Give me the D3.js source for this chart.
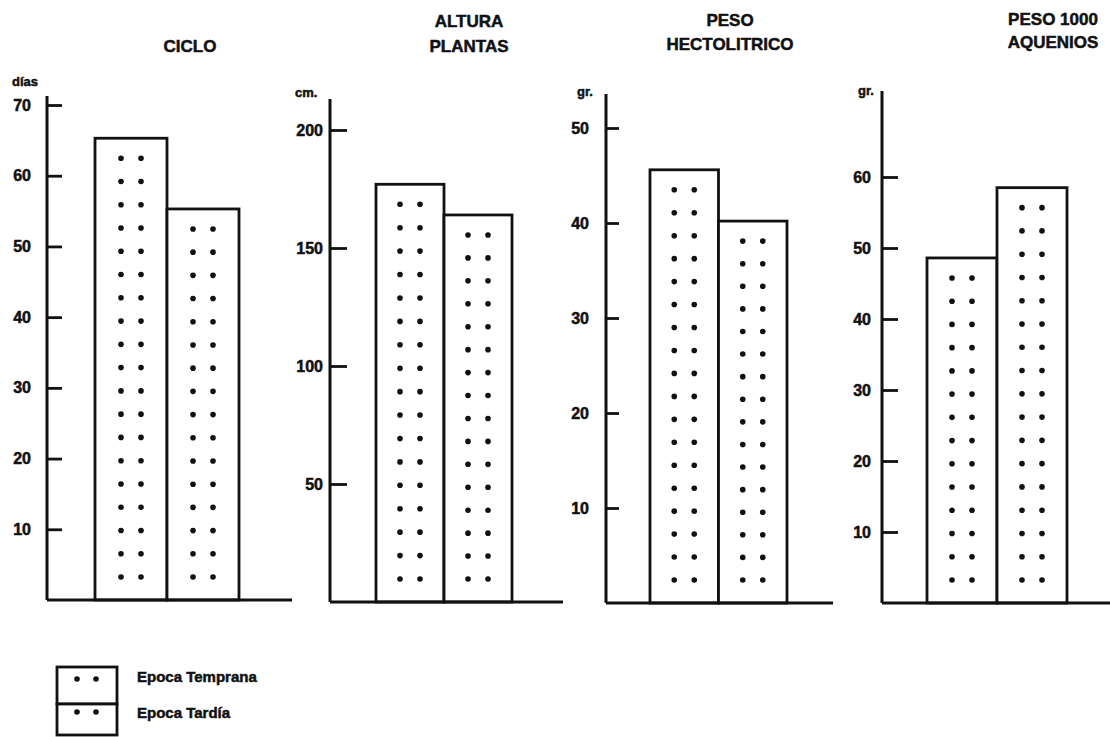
<!DOCTYPE html>
<html>
<head>
<meta charset="utf-8">
<script src="https://cdn.jsdelivr.net/npm/d3@7"></script>
<style>
  body { margin: 0; background: #fff; }
  text { font-family: "Liberation Sans", Arial, sans-serif; font-weight: bold; fill: #111; stroke: #111; stroke-width: 0.5px; }
</style>
</head>
<body>
<svg id="chart" width="1110" height="737"></svg>
<script>
// data
var epocas = ["Epoca Temprana", "Epoca Tardía"];
var titles = [["CICLO"], ["ALTURA", "PLANTAS"], ["PESO", "HECTOLITRICO"], ["PESO 1000", "AQUENIOS"]];
var units = ["días", "cm.", "gr.", "gr."];
var ciclo = [65.3, 55.3];
var altura = [177, 164];
var hectolitrico = [45.6, 40.2];
var aquenios = [48.6, 58.5];
var cicloTicks = [10, 20, 30, 40, 50, 60, 70];
var alturaTicks = [50, 100, 150, 200];
var hectoTicks = [10, 20, 30, 40, 50];
var aquTicks = [10, 20, 30, 40, 50, 60];

// layout of each hand-drawn panel
var panels = [
  { values: ciclo, ticks: cicloTicks, top: 70, axisX: 47, axisTop: 96, base: 600, yTop: 105,
    bars: [95, 239], baseEnd: 292, tick: 15, pad: 16, titleX: 190, titleY: [52], unitX: 12, unitY: 86 },
  { values: altura, ticks: alturaTicks, top: 200, axisX: 330, axisTop: 99, base: 602, yTop: 130,
    bars: [376, 512], baseEnd: 563, tick: 17, pad: 7, titleX: 469, titleY: [27, 52], unitX: 295, unitY: 97 },
  { values: hectolitrico, ticks: hectoTicks, top: 50, axisX: 606, axisTop: 94, base: 603, yTop: 128,
    bars: [650, 787], baseEnd: 833, tick: 13, pad: 17, titleX: 730, titleY: [26, 50], unitX: 577, unitY: 96 },
  { values: aquenios, ticks: aquTicks, top: 60, axisX: 882, axisTop: 91, base: 603, yTop: 177,
    bars: [927, 1067], baseEnd: 1110, tick: 16, pad: 11, titleX: 1053, titleY: [25, 48], unitX: 858, unitY: 95 }
];

var svg = d3.select("#chart");
var ink = "#111";

// two columns of dots inside a bar, spread from bottom to top
function dotRows(y0, y1) {
  var first = y1 + 20, last = y0 - 23;
  var n = Math.max(1, Math.round((last - first) / 23.2) + 1);
  return d3.range(n).map(function (i) { return n === 1 ? last : last - i * (last - first) / (n - 1); });
}

panels.forEach(function (p, pi) {
  var g = svg.append("g");
  var x = d3.scaleBand().domain(epocas).range(p.bars).paddingInner(0);
  var y = d3.scaleLinear().domain([0, p.top]).range([p.base, p.yTop]);

  // title
  g.selectAll(".title")
    .data(titles[pi])
    .enter().append("text")
    .attr("x", p.titleX)
    .attr("y", function (d, i) { return p.titleY[p.titleY.length - titles[pi].length + i]; })
    .attr("text-anchor", "middle")
    .style("font-size", "17px")
    .text(function (d) { return d; });

  // unit
  g.append("text")
    .attr("x", p.unitX)
    .attr("y", p.unitY)
    .style("font-size", "13px")
    .text(units[pi]);

  // bars
  g.selectAll("rect")
    .data(p.values)
    .enter().append("rect")
    .attr("x", function (d, i) { return x(epocas[i]); })
    .attr("y", function (d) { return y(d); })
    .attr("width", x.bandwidth())
    .attr("height", function (d) { return y(0) - y(d); })
    .attr("fill", "#fff")
    .attr("stroke", ink)
    .attr("stroke-width", 2.8);

  // dot pattern
  p.values.forEach(function (v, i) {
    var cx = x(epocas[i]) + x.bandwidth() / 2;
    var rows = dotRows(y(0), y(v));
    var pts = [];
    rows.forEach(function (ry) { pts.push([cx - 10, ry], [cx + 10, ry]); });
    g.selectAll(".dot" + i)
      .data(pts)
      .enter().append("circle")
      .attr("cx", function (d) { return d[0]; })
      .attr("cy", function (d) { return d[1]; })
      .attr("r", 2.8)
      .attr("fill", ink);
  });

  // axis
  var axis = d3.axisLeft(y)
    .tickValues(p.ticks)
    .tickSize(-p.tick)
    .tickPadding(p.pad)
    .tickFormat(d3.format("d"));
  var ag = g.append("g")
    .attr("transform", "translate(" + p.axisX + ",0)")
    .call(axis);
  ag.select(".domain").remove();
  ag.selectAll(".tick line").attr("stroke", ink).attr("stroke-width", 2.8);
  ag.selectAll(".tick text")
    .attr("fill", ink)
    .style("font-family", "'Liberation Sans', Arial, sans-serif")
    .style("font-weight", "bold")
    .style("font-size", "16px");

  g.append("line")
    .attr("x1", p.axisX).attr("x2", p.axisX)
    .attr("y1", p.axisTop).attr("y2", p.base)
    .attr("stroke", ink).attr("stroke-width", 3);
  g.append("line")
    .attr("x1", p.axisX).attr("x2", p.baseEnd)
    .attr("y1", p.base).attr("y2", p.base)
    .attr("stroke", ink).attr("stroke-width", 3);
});

// legend
var legendY = [667, 704];
var leg = svg.append("g");
epocas.forEach(function (e, i) {
  leg.append("rect")
    .attr("x", 57).attr("y", legendY[i])
    .attr("width", 60).attr("height", i === 0 ? 37 : 31)
    .attr("fill", "#fff").attr("stroke", ink).attr("stroke-width", 2.8);
  [77, 96].forEach(function (dx) {
    leg.append("circle")
      .attr("cx", dx).attr("cy", legendY[i] + (i === 0 ? 12 : 8))
      .attr("r", 2.8).attr("fill", ink);
  });
  leg.append("text")
    .attr("x", 137).attr("y", legendY[i] + (i === 0 ? 15 : 14))
    .style("font-size", "15px")
    .text(e);
});
</script>
</body>
</html>
